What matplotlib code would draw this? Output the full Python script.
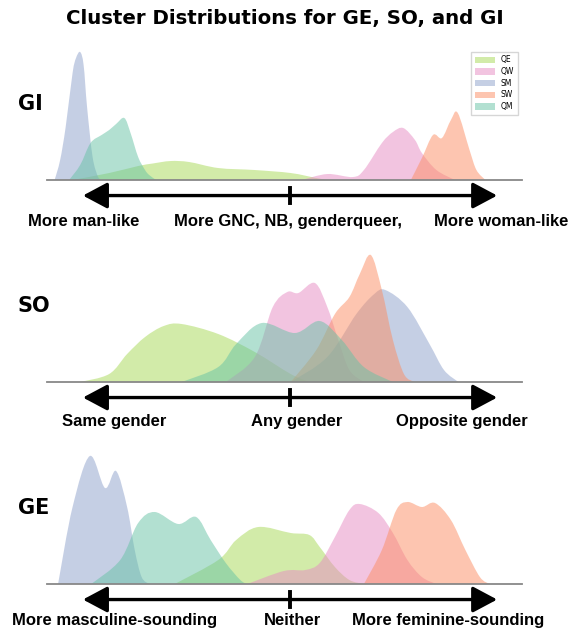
import matplotlib.pyplot as plt
from matplotlib.patches import Patch, PathPatch
from matplotlib.path import Path

# cluster names, legend order
clusters = ['QE', 'QW', 'SM', 'SW', 'QM']
colors = {'QE': '#a6d854', 'QW': '#e78ac3', 'SM': '#8da0cb', 'SW': '#fc8d62', 'QM': '#66c2a5'}

# 1..7 rating scale, densities
# ---- GI ----
gi_x = {
    'QE': [0.85, 1.38, 1.80, 2.01, 2.27, 2.54, 2.96, 3.49, 4.01, 4.38, 4.54],
    'QW': [4.17, 4.54, 4.91, 5.07, 5.33, 5.49, 5.64, 5.81, 5.91, 6.12, 6.39],
    'SM': [0.59, 0.67, 0.75, 0.85, 0.90, 0.96, 1.01, 1.06, 1.14, 1.22, 1.27],
    'SW': [5.75, 5.91, 6.07, 6.20, 6.33, 6.43, 6.60, 6.70, 6.83],
    'QM': [0.80, 0.96, 1.11, 1.27, 1.38, 1.48, 1.60, 1.69, 1.80, 1.90, 1.96, 2.06],
}
gi_y = {
    'QE': [0, 0.07, 0.14, 0.165, 0.19, 0.18, 0.12, 0.10, 0.07, 0.02, 0],
    'QW': [0, 0.06, 0.03, 0.10, 0.37, 0.48, 0.52, 0.40, 0.27, 0.10, 0],
    'SM': [0, 0.20, 0.53, 1.07, 1.22, 1.28, 1.15, 0.73, 0.23, 0.03, 0],
    'SW': [0, 0.22, 0.45, 0.42, 0.60, 0.67, 0.30, 0.10, 0],
    'QM': [0, 0.15, 0.37, 0.45, 0.50, 0.56, 0.62, 0.47, 0.23, 0.10, 0.05, 0],
}

# ---- SO ----
so_x = {
    'QE': [0.96, 1.38, 1.64, 1.90, 2.17, 2.43, 2.96, 3.49, 4.01, 4.28],
    'QW': [3.07, 3.49, 3.75, 3.96, 4.12, 4.36, 4.54, 4.70, 4.86, 5.07],
    'SM': [4.01, 4.54, 4.96, 5.22, 5.38, 5.70, 6.02, 6.23, 6.44],
    'SW': [4.01, 4.38, 4.65, 4.86, 5.01, 5.17, 5.33, 5.49, 5.65, 5.80],
    'QM': [2.43, 2.96, 3.22, 3.59, 4.07, 4.43, 4.75, 5.07, 5.49],
}
so_y = {
    'QE': [0, 0.08, 0.28, 0.45, 0.56, 0.58, 0.48, 0.30, 0.08, 0],
    'QW': [0, 0.25, 0.75, 0.90, 0.89, 0.99, 0.75, 0.42, 0.12, 0],
    'SM': [0, 0.25, 0.68, 0.88, 0.92, 0.75, 0.38, 0.12, 0],
    'SW': [0, 0.32, 0.68, 0.85, 1.08, 1.27, 0.92, 0.42, 0.08, 0],
    'QM': [0, 0.15, 0.38, 0.59, 0.49, 0.61, 0.42, 0.15, 0],
}

# ---- GE ----
ge_x = {
    'QE': [2.33, 2.96, 3.22, 3.54, 4.01, 4.28, 4.43, 4.65, 4.86, 5.07],
    'QW': [3.38, 3.91, 4.22, 4.43, 4.65, 4.86, 5.01, 5.28, 5.49, 5.70, 5.91, 6.12],
    'SM': [0.64, 0.85, 1.10, 1.32, 1.48, 1.64, 1.75, 1.85, 1.96],
    'SW': [5.07, 5.33, 5.54, 5.70, 5.91, 6.10, 6.33, 6.54, 6.75, 6.89],
    'QM': [1.12, 1.54, 1.80, 2.04, 2.38, 2.64, 2.85, 3.07, 3.28, 3.38],
}
ge_y = {
    'QE': [0, 0.24, 0.44, 0.57, 0.51, 0.49, 0.37, 0.17, 0.04, 0],
    'QW': [0, 0.13, 0.14, 0.21, 0.47, 0.74, 0.80, 0.71, 0.51, 0.24, 0.07, 0],
    'SM': [0, 0.77, 1.28, 0.96, 1.13, 0.77, 0.34, 0.07, 0],
    'SW': [0, 0.34, 0.74, 0.82, 0.77, 0.81, 0.64, 0.34, 0.07, 0],
    'QM': [0, 0.24, 0.61, 0.72, 0.60, 0.67, 0.44, 0.21, 0.04, 0],
}

gi_labels = ['More man-like', 'More GNC, NB, genderqueer,', 'More woman-like']
so_labels = ['Same gender', 'Any gender', 'Opposite gender']
ge_labels = ['More masculine-sounding', 'Neither', 'More feminine-sounding']

scale_min, scale_mid, scale_max = 1, 4, 7


def smooth_area(x, y):
    # catmull-rom through the read points, drawn as bezier curves, closed on the baseline
    pts = list(zip(x, y))
    verts = [pts[0]]
    codes = [Path.MOVETO]
    n = len(pts)
    for i in range(n - 1):
        p0 = pts[i - 1] if i > 0 else pts[i]
        p1 = pts[i]
        p2 = pts[i + 1]
        p3 = pts[i + 2] if i + 2 < n else pts[i + 1]
        c1 = (p1[0] + (p2[0] - p0[0]) / 6, max(0, p1[1] + (p2[1] - p0[1]) / 6))
        c2 = (p2[0] - (p3[0] - p1[0]) / 6, max(0, p2[1] - (p3[1] - p1[1]) / 6))
        verts += [c1, c2, p2]
        codes += [Path.CURVE4] * 3
    verts.append(pts[0])
    codes.append(Path.LINETO)
    return Path(verts, codes)


fig = plt.figure(figsize=(5.7, 6.33), dpi=100)
fig.suptitle('Cluster Distributions for GE, SO, and GI', fontsize=14.2, fontweight='bold', y=0.986)

panels = [
    ('GI', gi_x, gi_y, gi_labels, [1.01, 3.97, 7.06], 0.7156, -0.31),
    ('SO', so_x, so_y, so_labels, [1.46, 4.09, 6.49], 0.3965, -0.296),
    ('GE', ge_x, ge_y, ge_labels, [1.46, 4.04, 6.29], 0.0774, -0.267),
]

for name, xs, ys, labels, label_pos, bottom, label_y in panels:
    ax = fig.add_axes([0.0825, bottom, 0.8333, 0.2133])
    for c in clusters:
        ax.add_patch(PathPatch(smooth_area(xs[c], ys[c]), facecolor=colors[c], alpha=0.5,
                               edgecolor='none', linewidth=0))
    ax.set_xlim(0.48, 7.36)
    ax.set_ylim(0, 1.35)
    for s in ['top', 'right', 'left']:
        ax.spines[s].set_visible(False)
    ax.spines['bottom'].set_color('#888888')
    ax.spines['bottom'].set_linewidth(1.3)
    ax.set_xticks([])
    ax.set_yticks([])

    tr = ax.get_xaxis_transform()
    ax.annotate('', xy=(scale_min, -0.115), xytext=(scale_max, -0.115), xycoords=tr, textcoords=tr,
                arrowprops=dict(arrowstyle='<|-|>,head_length=0.75,head_width=0.4', lw=2.4,
                                color='black', shrinkA=0, shrinkB=0, mutation_scale=20),
                annotation_clip=False)
    ax.plot([scale_mid, scale_mid], [-0.06, -0.17], color='black', lw=2.8, transform=tr, clip_on=False)
    for lab, xp in zip(labels, label_pos):
        ax.text(xp, label_y, lab, transform=tr, ha='center', va='center', fontsize=12,
                fontweight='bold', family='Liberation Sans')

    fig.text(0.031, bottom + 0.2133 * 0.56, name, fontsize=15, fontweight='bold', ha='left', va='center')

    if name == 'GI':
        handles = [Patch(facecolor=colors[c], alpha=0.5, edgecolor='none') for c in clusters]
        ax.legend(handles, clusters, loc='upper right', bbox_to_anchor=(1.0, 0.98), fontsize=5.5,
                  handlelength=2.6, handleheight=0.9, labelspacing=0.35, borderpad=0.5,
                  frameon=True, fancybox=False, edgecolor='#cccccc')

fig.savefig('out.png', dpi=100)
